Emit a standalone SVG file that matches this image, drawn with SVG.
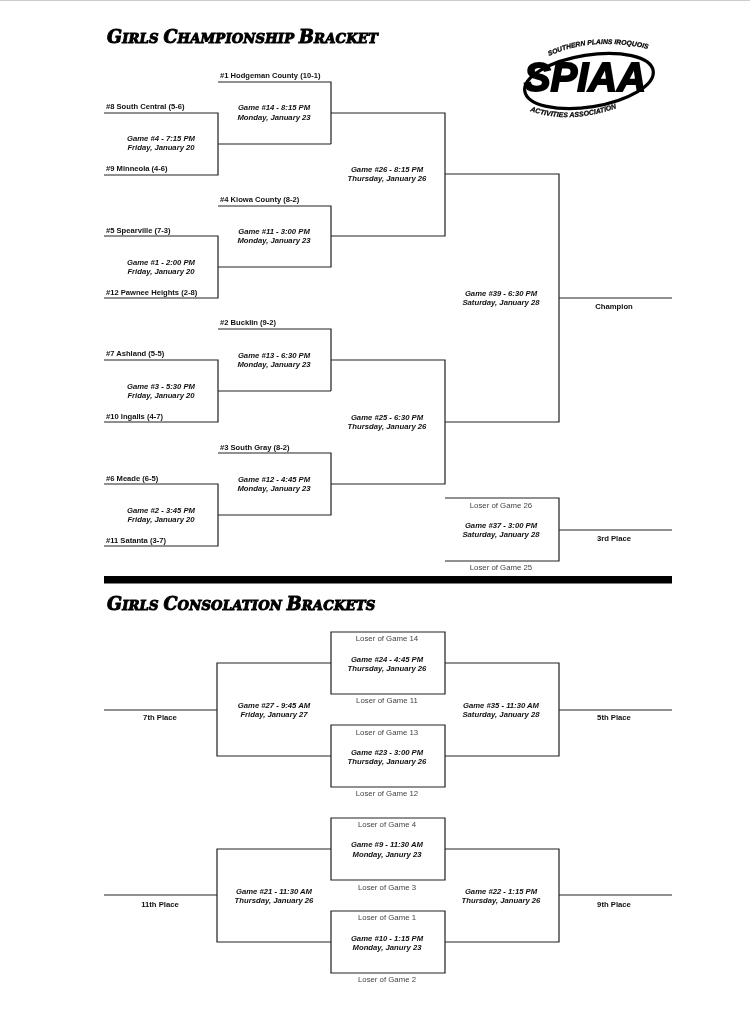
<svg xmlns="http://www.w3.org/2000/svg" width="750" height="1009" viewBox="0 0 750 1009">
<style>
text{font-family:"Liberation Sans",Arial,sans-serif;fill:#111}
.c path{fill:none;stroke:#222;stroke-width:1.2}
.t{font-size:7.6px;font-weight:bold}
.g{font-size:7.7px;font-weight:bold;font-style:italic;text-anchor:middle}
.p{font-size:7.7px;font-weight:bold;text-anchor:middle}
.l{font-size:7.8px;text-anchor:middle;fill:#444}
.h{font-family:"DejaVu Serif",serif;font-weight:bold;font-style:italic;fill:#000;stroke:#000;stroke-width:1;letter-spacing:.15px}
.h tspan.s{font-size:13.2px}
.h tspan.b{font-size:17.6px}
.lg{font-family:"Liberation Sans",sans-serif;font-weight:bold;font-style:italic;fill:#000}
</style>
<defs><filter id="soft" x="0" y="0" width="100%" height="100%"><feGaussianBlur stdDeviation="0.3"/></filter><path id="la" d="M549 56Q597 34 660 52"/><path id="lb" d="M530 111Q572 126 625 105"/></defs>
<rect width="750" height="1009" fill="#fff"/>
<g filter="url(#soft)">
<path d="M0 .5H750" stroke="#ccc" stroke-width="1"/>
<g id="connectors" class="c">
<path d="M104 113H218V175H104M218 144H331M218 82H331V144M331 113H445V236H331M218 206H331V267H218M104 236H218V298H104"/>
<path d="M104 360H218V422H104M218 391H331M218 329H331V391M331 360H445V484H331M218 453H331V515H218M104 484H218V546H104"/>
<path d="M445 174H559V422H445M559 298H672M445 498H559V561H445M559 530H672"/>
<path d="M331 632H445V694H331ZM331 725H445V787H331ZM331 663H217V756H331M104 710H217M445 663H559V756H445M559 710H672"/>
<path d="M331 818H445V880H331ZM331 911H445V973H331ZM331 849H217V942H331M104 895H217M445 849H559V942H445M559 895H672"/>
</g>
<g id="divider"><rect x="104" y="576" width="568" height="7.5" fill="#000"/></g>
<g id="title-championship"><text class="h" x="107" y="43"><tspan class="b">G</tspan><tspan class="s">IRLS </tspan><tspan class="b">C</tspan><tspan class="s">HAMPIONSHIP </tspan><tspan class="b">B</tspan><tspan class="s">RACKET</tspan></text></g>
<g id="title-consolation"><text class="h" x="107" y="610"><tspan class="b">G</tspan><tspan class="s">IRLS </tspan><tspan class="b">C</tspan><tspan class="s">ONSOLATION </tspan><tspan class="b">B</tspan><tspan class="s">RACKETS</tspan></text></g>
<g id="logo">
<ellipse cx="589" cy="81" rx="65" ry="26" fill="none" stroke="#000" stroke-width="3.2" transform="rotate(-9 589 81)"/>
<text class="lg" x="585" y="91" font-size="40" text-anchor="middle" stroke="#000" stroke-width="1.8">SPIAA</text>
<text class="lg" font-size="6.8" stroke="#000" stroke-width=".25"><textPath href="#la">SOUTHERN PLAINS IROQUOIS</textPath></text>
<text class="lg" font-size="7" stroke="#000" stroke-width=".25"><textPath href="#lb">ACTIVITIES ASSOCIATION</textPath></text>
</g>
<g id="team-1"><text class="t" x="220" y="78">#1 Hodgeman County (10-1)</text></g>
<g id="team-8"><text class="t" x="106" y="109">#8 South Central (5-6)</text></g>
<g id="team-9"><text class="t" x="106" y="171">#9 Minneola (4-6)</text></g>
<g id="team-4"><text class="t" x="220" y="202">#4 Kiowa County (8-2)</text></g>
<g id="team-5"><text class="t" x="106" y="233">#5 Spearville (7-3)</text></g>
<g id="team-12"><text class="t" x="106" y="295">#12 Pawnee Heights (2-8)</text></g>
<g id="team-2"><text class="t" x="220" y="325">#2 Bucklin (9-2)</text></g>
<g id="team-7"><text class="t" x="106" y="356">#7 Ashland (5-5)</text></g>
<g id="team-10"><text class="t" x="106" y="419">#10 Ingalls (4-7)</text></g>
<g id="team-3"><text class="t" x="220" y="450">#3 South Gray (8-2)</text></g>
<g id="team-6"><text class="t" x="106" y="481">#6 Meade (6-5)</text></g>
<g id="team-11"><text class="t" x="106" y="543">#11 Satanta (3-7)</text></g>
<g id="game-14"><text class="g" x="274" y="110">Game #14 - 8:15 PM</text><text class="g" x="274" y="120">Monday, January 23</text></g>
<g id="game-4"><text class="g" x="161" y="141">Game #4 - 7:15 PM</text><text class="g" x="161" y="150">Friday, January 20</text></g>
<g id="game-11"><text class="g" x="274" y="234">Game #11 - 3:00 PM</text><text class="g" x="274" y="243">Monday, January 23</text></g>
<g id="game-1"><text class="g" x="161" y="265">Game #1 - 2:00 PM</text><text class="g" x="161" y="274">Friday, January 20</text></g>
<g id="game-13"><text class="g" x="274" y="358">Game #13 - 6:30 PM</text><text class="g" x="274" y="367">Monday, January 23</text></g>
<g id="game-3"><text class="g" x="161" y="389">Game #3 - 5:30 PM</text><text class="g" x="161" y="398">Friday, January 20</text></g>
<g id="game-12"><text class="g" x="274" y="482">Game #12 - 4:45 PM</text><text class="g" x="274" y="491">Monday, January 23</text></g>
<g id="game-2"><text class="g" x="161" y="513">Game #2 - 3:45 PM</text><text class="g" x="161" y="522">Friday, January 20</text></g>
<g id="game-26"><text class="g" x="387" y="172">Game #26 - 8:15 PM</text><text class="g" x="387" y="181">Thursday, January 26</text></g>
<g id="game-25"><text class="g" x="387" y="420">Game #25 - 6:30 PM</text><text class="g" x="387" y="429">Thursday, January 26</text></g>
<g id="game-39"><text class="g" x="501" y="296">Game #39 - 6:30 PM</text><text class="g" x="501" y="305">Saturday, January 28</text></g>
<g id="champion"><text class="p" x="614" y="309">Champion</text></g>
<g id="game-37"><text class="l" x="501" y="508">Loser of Game 26</text><text class="g" x="501" y="528">Game #37 - 3:00 PM</text><text class="g" x="501" y="537">Saturday, January 28</text><text class="l" x="501" y="570">Loser of Game 25</text></g>
<g id="third"><text class="p" x="614" y="541">3rd Place</text></g>
<g id="game-24"><text class="l" x="387" y="641">Loser of Game 14</text><text class="g" x="387" y="662">Game #24 - 4:45 PM</text><text class="g" x="387" y="671">Thursday, January 26</text><text class="l" x="387" y="703">Loser of Game 11</text></g>
<g id="game-23"><text class="l" x="387" y="735">Loser of Game 13</text><text class="g" x="387" y="755">Game #23 - 3:00 PM</text><text class="g" x="387" y="764">Thursday, January 26</text><text class="l" x="387" y="796">Loser of Game 12</text></g>
<g id="game-27"><text class="g" x="274" y="708">Game #27 - 9:45 AM</text><text class="g" x="274" y="717">Friday, January 27</text></g>
<g id="game-35"><text class="g" x="501" y="708">Game #35 - 11:30 AM</text><text class="g" x="501" y="717">Saturday, January 28</text></g>
<g id="seventh"><text class="p" x="160" y="720">7th Place</text></g>
<g id="fifth"><text class="p" x="614" y="720">5th Place</text></g>
<g id="game-9"><text class="l" x="387" y="827">Loser of Game 4</text><text class="g" x="387" y="847">Game #9 - 11:30 AM</text><text class="g" x="387" y="857">Monday, Janury 23</text><text class="l" x="387" y="890">Loser of Game 3</text></g>
<g id="game-10"><text class="l" x="387" y="920">Loser of Game 1</text><text class="g" x="387" y="941">Game #10 - 1:15 PM</text><text class="g" x="387" y="950">Monday, Janury 23</text><text class="l" x="387" y="982">Loser of Game 2</text></g>
<g id="game-21"><text class="g" x="274" y="894">Game #21 - 11:30 AM</text><text class="g" x="274" y="903">Thursday, January 26</text></g>
<g id="game-22"><text class="g" x="501" y="894">Game #22 - 1:15 PM</text><text class="g" x="501" y="903">Thursday, January 26</text></g>
<g id="eleventh"><text class="p" x="160" y="907">11th Place</text></g>
<g id="ninth"><text class="p" x="614" y="907">9th Place</text></g>
</g>
</svg>
